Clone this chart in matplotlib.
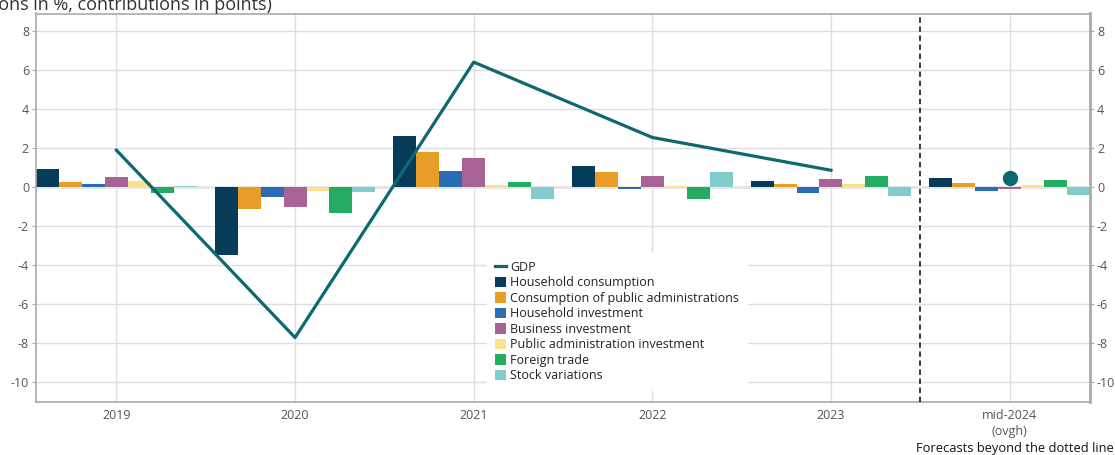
import numpy as np
import matplotlib
matplotlib.use("Agg")
import matplotlib.pyplot as plt
from matplotlib.patches import Patch
from matplotlib.lines import Line2D

plt.rcParams['font.family'] = ['Open Sans', 'DejaVu Sans']
plt.rcParams['axes.unicode_minus'] = False

# data
years = ["2019", "2020", "2021", "2022", "2023", "mid-2024\n(ovgh)"]
series = ["Household consumption", "Consumption of public administrations",
          "Household investment", "Business investment",
          "Public administration investment", "Foreign trade", "Stock variations"]
household_cons = [0.92, -3.47, 2.63, 1.08, 0.31, 0.46]
public_cons = [0.27, -1.11, 1.81, 0.79, 0.15, 0.20]
household_inv = [0.15, -0.50, 0.84, -0.10, -0.29, -0.19]
business_inv = [0.51, -1.01, 1.49, 0.56, 0.41, -0.09]
public_inv = [0.31, -0.19, 0.10, 0.05, 0.15, 0.10]
foreign_trade = [-0.29, -1.32, 0.27, -0.62, 0.56, 0.36]
stock_var = [0.05, -0.24, -0.62, 0.79, -0.45, -0.39]
gdp = [1.9, -7.7, 6.41, 2.55, 0.87]
gdp_forecast = 0.45

colors = ["#073b5a", "#e89d27", "#2a6db5", "#a86396", "#fbe18e", "#26ab63", "#84cccb"]
gdp_color = "#0e6870"
grid_col = "#dddddd"
tick_col = "#555555"

values = [household_cons, public_cons, household_inv, business_inv,
          public_inv, foreign_trade, stock_var]

fig = plt.figure(figsize=(11.15, 4.55), dpi=100)
ax = fig.add_axes([36/1115, 1 - 402/455, 1054/1115, 388.5/455])

x = np.arange(len(years))
n = len(series)
w = 0.9 / n
for i, (vals, c) in enumerate(zip(values, colors)):
    ax.bar(x - 0.45 + w*(i + 0.5), vals, width=w, color=c, zorder=2)

ax.plot(x[:len(gdp)], gdp, color=gdp_color, lw=2.3, zorder=3)
ax.plot(x[-1], gdp_forecast, 'o', color=gdp_color, ms=10, zorder=3)

ax.axvline(4.5, color="#1f2d3d", lw=1.3, ls=(0, (3, 2)), zorder=4)

ax.set_xlim(-0.45, 5.45)
ax.set_ylim(-11, 8.9)
ax.set_yticks(range(-10, 9, 2))
ax.set_xticks(x)
ax.set_xticklabels(years, linespacing=1.35)
ax.grid(True, color=grid_col, lw=1, zorder=0)
ax.axhline(0, color="#e6e6e6", lw=2, zorder=1)
ax.set_axisbelow(True)

ax.tick_params(axis='both', colors=tick_col, labelsize=9, length=3, pad=2)
ax.tick_params(axis='y', labelright=True, right=True)
ax.tick_params(axis='y', color="#aaaaaa")
ax.tick_params(axis='x', length=0, pad=5)
for s in ax.spines.values():
    s.set_color("#aaaaaa")
    s.set_linewidth(1.2)
ax.spines['right'].set_linewidth(2)

handles = [Line2D([0], [0], color=gdp_color, lw=2.3)]
handles += [Patch(facecolor=c) for c in colors]
leg = ax.legend(handles, ["GDP"] + series, loc='lower left',
                bbox_to_anchor=(0.422, 0.015), fontsize=9, frameon=True,
                fancybox=False, framealpha=1, edgecolor='white',
                handlelength=0.9, handleheight=0.9, handletextpad=0.35,
                labelspacing=0.2, borderpad=0.6)
leg.set_zorder(5)
for t in leg.get_texts():
    t.set_color("#222222")

fig.text(272/1115, 1 - 10/455, "(annual variations in %, contributions in points)",
         ha='right', va='baseline', fontsize=13, color="#333333")
fig.text(1114/1115, 1 - 452/455, "Forecasts beyond the dotted line",
         ha='right', va='baseline', fontsize=9.3, color="#111111")

fig.savefig("out.png", dpi=100)
